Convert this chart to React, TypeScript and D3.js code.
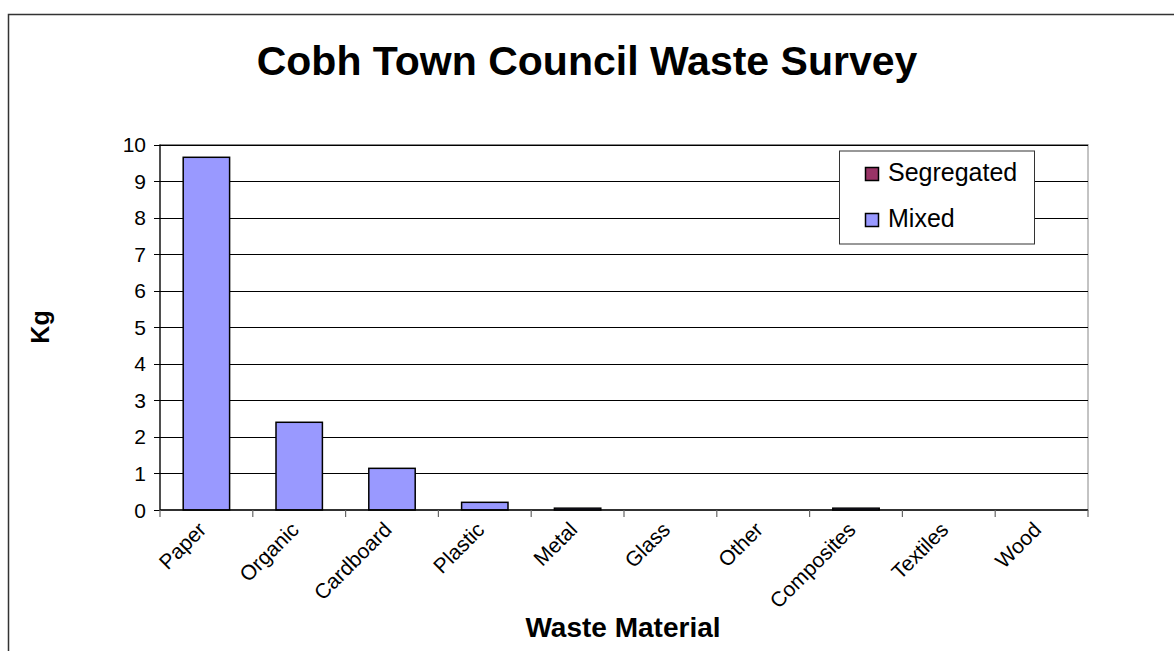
import React from "react";
import * as d3 from "d3";

const categories = ["Paper", "Organic", "Cardboard", "Plastic", "Metal", "Glass", "Other", "Composites", "Textiles", "Wood"];
const segregated = [0, 0, 0, 0, 0, 0, 0, 0, 0, 0];
const mixed = [9.65, 2.4, 1.14, 0.21, 0.05, 0, 0, 0.05, 0, 0];
const yTicks = [0, 1, 2, 3, 4, 5, 6, 7, 8, 9, 10];
const seriesNames = ["Segregated", "Mixed"];
const seriesColors = ["#993366", "#9999FF"];

const W = 1174;
const H = 651;
const FONT = "'Liberation Sans', Arial, sans-serif";

export default function App() {
  const left = 160, right = 1088, top = 144.5, bottom = 510;
  const x = d3.scaleBand<string>().domain(categories).range([left, right]).paddingInner(0.5).paddingOuter(0.25);
  const y = d3.scaleLinear().domain([0, 10]).range([bottom, top]);
  const tickXs = d3.range(categories.length + 1).map((i) => left + i * ((right - left) / categories.length));

  return (
    <svg width={W} height={H} style={{ position: "absolute", left: 0, top: 0, background: "#fff" }} fontFamily={FONT}>
      <rect x={0} y={0} width={W} height={H} fill="#fff" />
      <path d={`M8.5,${H} V14.5 H${W}`} fill="none" stroke="#333" strokeWidth={1.5} />
      <text x={587} y={75} textAnchor="middle" fontSize={41} fontWeight="bold">Cobh Town Council Waste Survey</text>

      {/* plot area */}
      <rect x={left} y={top} width={right - left} height={bottom - top} fill="none" stroke="#888" strokeWidth={1} />
      {yTicks.filter((t) => t > 0).map((t) => (
        <line key={"g" + t} x1={left} x2={right} y1={Math.round(y(t)) + 0.5} y2={Math.round(y(t)) + 0.5} stroke="#000" strokeWidth={1} />
      ))}

      {/* bars */}
      {categories.map((c, i) => {
        const s = segregated[i];
        const m = mixed[i];
        return (
          <g key={c}>
            {s > 0 && (
              <rect x={x(c)} y={y(s)} width={x.bandwidth()} height={y(0) - y(s)} fill={seriesColors[0]} stroke="#000" strokeWidth={1.5} />
            )}
            {m > 0 && (
              <rect x={x(c)} y={y(s + m)} width={x.bandwidth()} height={y(s) - y(s + m)} fill={seriesColors[1]} stroke="#000" strokeWidth={1.5} />
            )}
          </g>
        );
      })}

      {/* axes */}
      <line x1={left} x2={left} y1={top} y2={bottom} stroke="#000" strokeWidth={1.2} />
      <line x1={left} x2={right} y1={bottom} y2={bottom} stroke="#000" strokeWidth={1.5} />
      {yTicks.map((t) => (
        <g key={"y" + t}>
          <line x1={154} x2={left} y1={Math.round(y(t)) + 0.5} y2={Math.round(y(t)) + 0.5} stroke="#000" />
          <text x={146} y={y(t)} dy="0.36em" textAnchor="end" fontSize={21}>{t}</text>
        </g>
      ))}
      {tickXs.map((tx, i) => (
        <line key={"xt" + i} x1={tx} x2={tx} y1={bottom} y2={517} stroke="#666" strokeWidth={1.2} />
      ))}
      {categories.map((c) => {
        const cx = (x(c) as number) + x.bandwidth() / 2;
        return (
          <text key={"l" + c} transform={`translate(${cx + 1},${531}) rotate(-45)`} textAnchor="end" fontSize={21}>{c}</text>
        );
      })}

      <text transform={`translate(49,327) rotate(-90)`} textAnchor="middle" fontSize={25} fontWeight="bold">Kg</text>
      <text x={623} y={637} textAnchor="middle" fontSize={28} fontWeight="bold">Waste Material</text>

      {/* legend */}
      <rect x={839.5} y={151} width={195} height={93} fill="#fff" stroke="#333" strokeWidth={1} />
      {seriesNames.map((n, i) => (
        <g key={n}>
          <rect x={865.5} y={167.5 + i * 46} width={13} height={13} fill={seriesColors[i]} stroke="#000" strokeWidth={1.5} />
          <text x={888} y={181 + i * 46} fontSize={25}>{n}</text>
        </g>
      ))}
    </svg>
  );
}
